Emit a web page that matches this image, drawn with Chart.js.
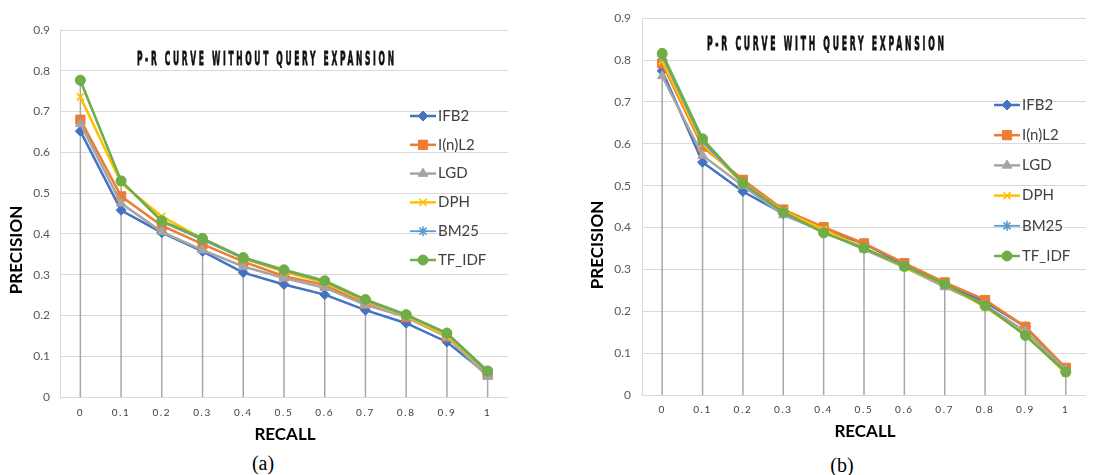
<!DOCTYPE html>
<html><head><meta charset="utf-8">
<script src="https://cdn.jsdelivr.net/npm/chart.js@4/dist/chart.umd.min.js"></script>
<style>
html,body{margin:0;padding:0;background:#fff;width:1108px;height:475px;overflow:hidden;position:relative}
.wrap{position:absolute;top:0}
.cap{position:absolute;font-family:"Liberation Serif",serif;font-size:20px;color:#000;transform:translate(-50%,-50%);white-space:nowrap}
</style></head><body>
<div class="wrap" style="left:0;width:550px;height:450px"><canvas id="ca" width="550" height="450"></canvas></div>
<div class="wrap" style="left:555px;width:553px;height:450px"><canvas id="cb" width="553" height="450"></canvas></div>
<div class="cap" style="left:263px;top:463px">(a)</div>
<div class="cap" style="left:842px;top:465px">(b)</div>
<script>
// ---------- data ----------
const recall = ['0','0.1','0.2','0.3','0.4','0.5','0.6','0.7','0.8','0.9','1'];
const models = ['IFB2','I(n)L2','LGD','DPH','BM25','TF_IDF'];
const yTickValues = [0,0.1,0.2,0.3,0.4,0.5,0.6,0.7,0.8,0.9];
const titleA = 'P-R CURVE WITHOUT QUERY EXPANSION';
const titleB = 'P-R CURVE WITH QUERY EXPANSION';
const xTitle = 'RECALL';
const yTitle = 'PRECISION';

// (a) without query expansion
const noQE_IFB2  = [0.652,0.458,0.403,0.357,0.305,0.276,0.251,0.213,0.181,0.135,0.055];
const noQE_InL2  = [0.680,0.492,0.420,0.375,0.332,0.296,0.275,0.229,0.196,0.148,0.055];
const noQE_LGD   = [0.670,0.475,0.405,0.360,0.320,0.292,0.268,0.226,0.196,0.148,0.050];
const noQE_DPH   = [0.736,0.525,0.443,0.388,0.340,0.307,0.280,0.235,0.199,0.150,0.060];
const noQE_BM25  = [0.775,0.530,0.430,0.385,0.340,0.310,0.283,0.237,0.200,0.155,0.060];
const noQE_TFIDF = [0.777,0.530,0.432,0.389,0.342,0.312,0.285,0.239,0.202,0.157,0.064];

// (b) with query expansion
const QE_IFB2  = [0.774,0.556,0.486,0.433,0.395,0.362,0.310,0.268,0.222,0.163,0.060];
const QE_InL2  = [0.792,0.593,0.514,0.443,0.401,0.362,0.315,0.269,0.227,0.163,0.065];
const QE_LGD   = [0.762,0.572,0.500,0.430,0.390,0.348,0.305,0.258,0.215,0.152,0.060];
const QE_DPH   = [0.798,0.600,0.505,0.440,0.395,0.352,0.305,0.265,0.210,0.145,0.052];
const QE_BM25  = [0.810,0.605,0.505,0.435,0.388,0.350,0.310,0.265,0.215,0.142,0.055];
const QE_TFIDF = [0.816,0.612,0.506,0.437,0.387,0.351,0.307,0.265,0.213,0.142,0.055];

// ---------- styles ----------
const colors = ['#4472C4','#ED7D31','#A5A5A5','#FFC000','#5B9BD5','#70AD47'];
const markers = ['rectRot','rect','triangle','crossRot','star','circle'];
const radii = [5,6.5,5.5,5,5,5];
const lineW = [2.5,2.5,2.5,2.5,1.8,2.5];

function buildDatasets(seriesList){
  return seriesList.map((d,i)=>({
    label: models[i],
    data: d,
    borderColor: colors[i],
    backgroundColor: colors[i],
    pointBackgroundColor: colors[i],
    pointBorderColor: colors[i],
    pointStyle: markers[i],
    pointRadius: radii[i],
    pointBorderWidth: (markers[i]==='crossRot'||markers[i]==='star') ? 1.6 : 1,
    borderWidth: lineW[i],
    tension: 0,
    order: seriesList.length - i
  }));
}

const overlayPlugin = {
  id: 'overlay',
  beforeDatasetsDraw(chart){
    // drop lines from the highest point at each category down to the x axis
    const ctx = chart.ctx, xs = chart.scales.x, ys = chart.scales.y;
    const n = chart.data.labels.length;
    ctx.save();
    ctx.strokeStyle = '#A6A6A6';
    ctx.lineWidth = 1.5;
    for (let i=0;i<n;i++){
      let m = -Infinity;
      chart.data.datasets.forEach(ds=>{ if (ds.data[i] > m) m = ds.data[i]; });
      const x = xs.getPixelForValue(i);
      ctx.beginPath();
      ctx.moveTo(x, ys.getPixelForValue(m));
      ctx.lineTo(x, ys.getPixelForValue(0));
      ctx.stroke();
    }
    ctx.restore();
  },
  afterDraw(chart, args, opts){
    const ctx = chart.ctx;
    // chart title (condensed, letter-spaced, heavy)
    const t = opts.title;
    ctx.save();
    ctx.font = 'bold 17px "DejaVu Sans", sans-serif';
    ctx.letterSpacing = '6px';
    ctx.fillStyle = '#111';
    ctx.strokeStyle = '#111';
    ctx.lineWidth = 0.7;
    ctx.textBaseline = 'middle';
    ctx.textAlign = 'left';
    const w = ctx.measureText(t.text).width - 6;
    const sx = t.width / w;
    ctx.translate(t.x, t.y);
    ctx.scale(sx, 1.15);
    ctx.fillText(t.text, 0, 0);
    ctx.strokeText(t.text, 0, 0);
    ctx.restore();

    // axis titles
    ctx.save();
    ctx.font = 'bold 17px Lato, "Open Sans", sans-serif';
    ctx.fillStyle = '#000';
    ctx.textAlign = 'center';
    ctx.textBaseline = 'middle';
    ctx.fillText(xTitle, opts.xTitle.x, opts.xTitle.y);
    ctx.translate(opts.yTitle.x, opts.yTitle.y);
    ctx.rotate(-Math.PI/2);
    ctx.fillText(yTitle, 0, 0);
    ctx.restore();

    // legend
    const L = opts.legend;
    ctx.save();
    ctx.font = '15px Lato, "Open Sans", sans-serif';
    ctx.textBaseline = 'middle';
    ctx.textAlign = 'left';
    chart.data.datasets.forEach((ds,i)=>{
      const y = L.y + i*L.dy;
      ctx.strokeStyle = ds.borderColor;
      ctx.lineWidth = ds.borderWidth;
      ctx.beginPath();
      ctx.moveTo(L.x, y);
      ctx.lineTo(L.x + L.len, y);
      ctx.stroke();
      ctx.fillStyle = ds.pointBackgroundColor;
      ctx.strokeStyle = ds.pointBorderColor;
      ctx.lineWidth = ds.pointBorderWidth;
      Chart.helpers.drawPoint(ctx, {pointStyle: ds.pointStyle, radius: ds.pointRadius, rotation: 0, borderWidth: ds.pointBorderWidth}, L.x + L.len/2, y);
      ctx.fillStyle = '#404040';
      ctx.fillText(ds.label, L.x + L.len + 2, y);
    });
    ctx.restore();
  }
};

function makeChart(id, seriesList, geo){
  const canvas = document.getElementById(id);
  return new Chart(canvas, {
    type: 'line',
    data: { labels: recall, datasets: buildDatasets(seriesList) },
    options: {
      responsive: false,
      animation: false,
      devicePixelRatio: 1,
      layout: { padding: { left: 0, top: geo.top, right: geo.padRight, bottom: 0 } },
      plugins: {
        legend: { display: false },
        tooltip: { enabled: false },
        title: { display: false },
        overlay: geo.overlay
      },
      scales: {
        x: {
          type: 'category',
          offset: true,
          grid: { display: false, drawTicks: false },
          border: { display: false },
          ticks: {
            color: '#404040',
            font: { family: 'Lato, "Open Sans", sans-serif', size: 10 },
            padding: geo.xTickPad,
            maxRotation: 0,
            autoSkip: false
          },
          afterFit(scale){
            scale.height = geo.xHeight;
            if (!scale._lsWrapped){
              const orig = scale.drawLabels;
              scale.drawLabels = function(area){
                const c = this.ctx;
                c.save();
                c.letterSpacing = '1.6px';
                orig.call(this, area);
                c.restore();
              };
              scale._lsWrapped = true;
            }
          }
        },
        y: {
          min: 0, max: 0.9,
          afterBuildTicks(scale){ scale.ticks = yTickValues.map(v=>({value:v})); },
          grid: { color: '#D9D9D9', lineWidth: 1, drawTicks: false },
          border: { display: true, color: '#D9D9D9' },
          ticks: {
            color: '#595959',
            font: { family: 'Lato, "Open Sans", sans-serif', size: 12 },
            padding: geo.yTickPad,
            callback: v => String(+(+v).toFixed(1))
          },
          afterFit(scale){ scale.width = geo.yWidth; }
        }
      }
    },
    plugins: [overlayPlugin]
  });
}

makeChart('ca', [noQE_IFB2,noQE_InL2,noQE_LGD,noQE_DPH,noQE_BM25,noQE_TFIDF], {
  top: 30, padRight: 42, yWidth: 60, xHeight: 53, xTickPad: 10, yTickPad: 10,
  overlay: {
    title: { text: titleA, x: 137, y: 60, width: 257 },
    xTitle: { x: 285, y: 435 },
    yTitle: { x: 17, y: 250 },
    legend: { x: 410, y: 116, dy: 28.8, len: 26 }
  }
});

makeChart('cb', [QE_IFB2,QE_InL2,QE_LGD,QE_DPH,QE_BM25,QE_TFIDF], {
  top: 15, padRight: 22, yWidth: 87, xHeight: 55, xTickPad: 9, yTickPad: 11,
  overlay: {
    title: { text: titleB, x: 152, y: 45, width: 237 },
    xTitle: { x: 310, y: 432 },
    yTitle: { x: 43, y: 245 },
    legend: { x: 439, y: 105, dy: 30.2, len: 26 }
  }
});
</script>
</body></html>
